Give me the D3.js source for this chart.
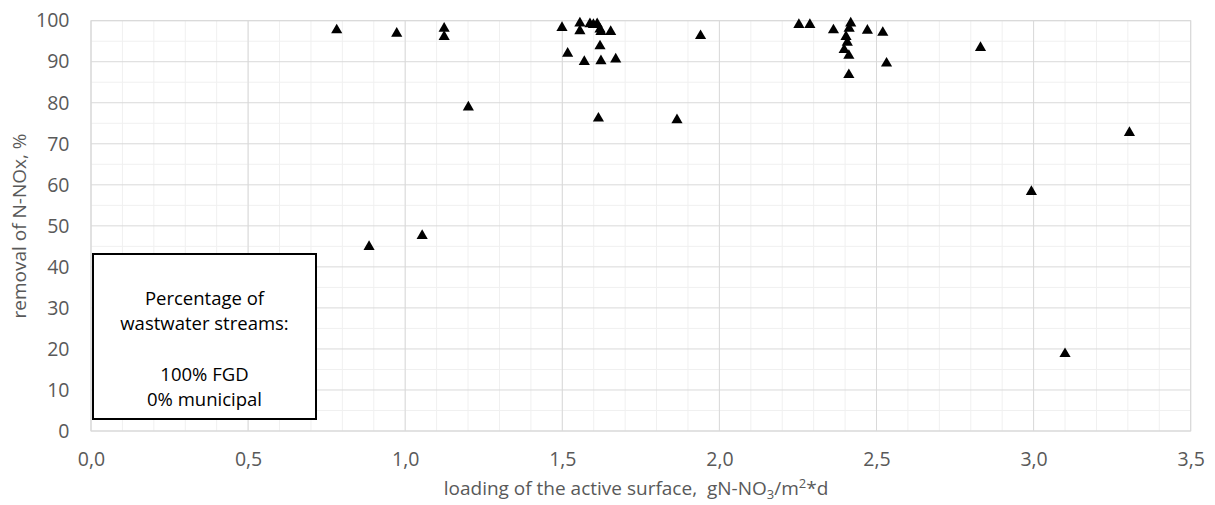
<!DOCTYPE html>
<html>
<head>
<meta charset="utf-8">
<script src="https://cdn.jsdelivr.net/npm/d3@7"></script>
<style>
  body { margin: 0; background: #fff; }
  text { font-family: "Open Sans", Lato, sans-serif; }
</style>
</head>
<body>
<script>
// Loading of the active surface, gN-NO3/m2*d
const loading = [
  0.782, 0.885, 0.973, 1.054, 1.124, 1.124, 1.201,
  1.499, 1.517, 1.556, 1.556, 1.570, 1.588, 1.599, 1.611, 1.615, 1.620, 1.620, 1.623, 1.623, 1.654, 1.670,
  1.865, 1.940,
  2.253, 2.288, 2.363, 2.397, 2.403, 2.407, 2.412, 2.412, 2.413, 2.418, 2.471, 2.520, 2.532,
  2.831, 2.993, 3.100, 3.305
];
// Removal of N-NOx, %
const removal = [
  97.7, 44.9, 96.9, 47.6, 98.1, 96.1, 78.9,
  98.3, 92.0, 99.4, 97.5, 90.0, 99.2, 99.0, 99.2, 76.2, 97.9, 93.8, 97.3, 90.2, 97.3, 90.6,
  75.8, 96.3,
  99.0, 99.0, 97.7, 92.9, 96.1, 94.7, 91.5, 86.8, 98.1, 99.4, 97.6, 97.1, 89.6,
  93.4, 58.3, 18.8, 72.7
];
const xTicks = [0, 0.5, 1.0, 1.5, 2.0, 2.5, 3.0, 3.5];
const yTicks = [0, 10, 20, 30, 40, 50, 60, 70, 80, 90, 100];
const boxLines = ["Percentage of", "wastwater streams:", "", "100% FGD", "0% municipal"];

const width = 1215, height = 505;
const margin = {top: 20.7, right: 24.3, bottom: 74, left: 91};
const innerW = width - margin.left - margin.right;
const innerH = height - margin.top - margin.bottom;

const locale = d3.formatLocale({decimal: ",", thousands: ".", grouping: [3], currency: ["", ""]});
const fmtX = locale.format(".1f");

const svg = d3.select("body").append("svg")
    .attr("width", width)
    .attr("height", height);

const g = svg.append("g")
    .attr("transform", "translate(" + margin.left + "," + margin.top + ")");

const x = d3.scaleLinear().domain([0, 3.5]).range([0, innerW]);
const y = d3.scaleLinear().domain([0, 100]).range([innerH, 0]);

// minor gridlines
g.append("g").selectAll("line")
    .data(d3.range(0, 35).map(i => i / 10))
    .enter().append("line")
    .attr("x1", d => x(d)).attr("x2", d => x(d))
    .attr("y1", 0).attr("y2", innerH)
    .attr("stroke", "#f0f0f0").attr("stroke-width", 1);
g.append("g").selectAll("line")
    .data(d3.range(5, 100, 10))
    .enter().append("line")
    .attr("x1", 0).attr("x2", innerW)
    .attr("y1", d => y(d)).attr("y2", d => y(d))
    .attr("stroke", "#f0f0f0").attr("stroke-width", 1);

// major gridlines
g.append("g").selectAll("line")
    .data(xTicks)
    .enter().append("line")
    .attr("x1", d => x(d)).attr("x2", d => x(d))
    .attr("y1", 0).attr("y2", innerH)
    .attr("stroke", "#d9d9d9").attr("stroke-width", 1);
g.append("g").selectAll("line")
    .data(yTicks)
    .enter().append("line")
    .attr("x1", 0).attr("x2", innerW)
    .attr("y1", d => y(d)).attr("y2", d => y(d))
    .attr("stroke", "#d9d9d9").attr("stroke-width", 1);

// plot border
g.append("rect")
    .attr("width", innerW).attr("height", innerH)
    .attr("fill", "none")
    .attr("stroke", "#d9d9d9").attr("stroke-width", 1);

// axes (labels only)
const xAxis = g.append("g")
    .attr("transform", "translate(0," + innerH + ")")
    .call(d3.axisBottom(x).tickValues(xTicks).tickFormat(fmtX).tickSize(0).tickPadding(21));
const yAxis = g.append("g")
    .call(d3.axisLeft(y).tickValues(yTicks).tickSize(0).tickPadding(21.5));
[xAxis, yAxis].forEach(a => {
    a.select(".domain").remove();
    a.selectAll("text")
        .attr("fill", "#595959")
        .style("font-size", "19.5px")
        .style("font-family", "'Open Sans', Lato, sans-serif");
});

// markers
g.append("g").selectAll("path")
    .data(loading.map((d, i) => [d, removal[i]]))
    .enter().append("path")
    .attr("d", d3.symbol().type(d3.symbolTriangle).size(54))
    .attr("transform", d => "translate(" + x(d[0]) + "," + y(d[1]) + ")")
    .attr("fill", "#000");

// axis titles
svg.append("text")
    .attr("transform", "translate(26,226) rotate(-90)")
    .attr("text-anchor", "middle")
    .attr("fill", "#595959")
    .style("font-size", "19px")
    .text("removal of N-NOx, %");

const xt = svg.append("text")
    .attr("x", 636)
    .attr("y", 495)
    .attr("text-anchor", "middle")
    .attr("fill", "#595959")
    .style("white-space", "pre")
    .style("font-size", "19px");
xt.append("tspan").text("loading of the active surface,  gN-NO");
xt.append("tspan").attr("dy", 4).style("font-size", "13px").text("3");
xt.append("tspan").attr("dy", -4).text("/m");
xt.append("tspan").attr("dy", -7).style("font-size", "13px").text("2");
xt.append("tspan").attr("dy", 7).text("*d");

// annotation box
const box = svg.append("g");
box.append("rect")
    .attr("x", 93).attr("y", 254)
    .attr("width", 223).attr("height", 165)
    .attr("fill", "#fff")
    .attr("stroke", "#000").attr("stroke-width", 2);
box.selectAll("text")
    .data(boxLines)
    .enter().append("text")
    .attr("x", 204.5)
    .attr("y", (d, i) => 305 + i * 25.2)
    .attr("text-anchor", "middle")
    .attr("fill", "#000")
    .style("font-size", "18.5px")
    .text(d => d);
</script>
</body>
</html>
